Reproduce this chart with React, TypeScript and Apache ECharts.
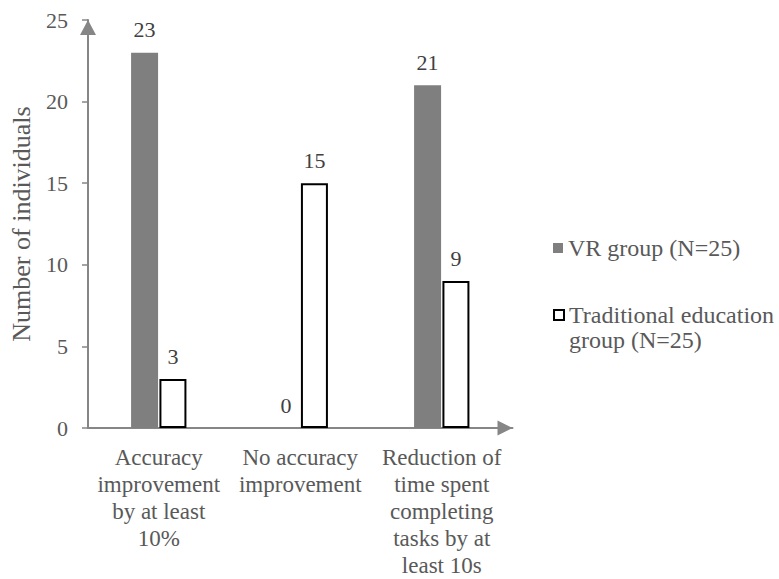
import React, { useEffect, useRef } from "react";
import * as echarts from "echarts";

const categories = [
  "Accuracy\nimprovement\nby at least\n10%",
  "No accuracy\nimprovement",
  "Reduction of\ntime spent\ncompleting\ntasks by at\nleast 10s",
];
const vrGroup = [23, 0, 21];
const traditionalGroup = [3, 15, 9];
const seriesNames = ["VR group (N=25)", "Traditional education\ngroup (N=25)"];
const yTicks = { min: 0, max: 25, interval: 5 };

const FONT = "Liberation Serif";
const AXIS_GRAY = "#868686";
const TEXT_GRAY = "#595959";

export default function App() {
  const ref = useRef<HTMLDivElement>(null);

  useEffect(() => {
    if (!ref.current) return;
    const chart = echarts.init(ref.current, undefined, { renderer: "svg" });
    const labelStyle = {
      show: true,
      position: "top" as const,
      distance: 12,
      color: "#404040",
      fontSize: 22,
      fontFamily: FONT,
    };
    const legendBase = {
      orient: "vertical" as const,
      left: 553,
      padding: 0,
      itemWidth: 10,
      itemHeight: 10,
      icon: "rect",
      selectedMode: false,
      textStyle: {
        fontFamily: FONT,
        fontSize: 24,
        lineHeight: 25,
        color: TEXT_GRAY,
      },
    };
    chart.setOption({
      animation: false,
      backgroundColor: "#ffffff",
      textStyle: { fontFamily: FONT },
      grid: { left: 88, right: 266.5, top: 20, bottom: 151, containLabel: false },
      legend: [
        { ...legendBase, top: 235.5, data: [seriesNames[0]] },
        {
          ...legendBase,
          top: 277.5,
          data: [seriesNames[1]],
          // a blank leading line keeps the icon level with the first line of the name
          formatter: (name: string) => " \n" + name,
        },
      ],
      xAxis: {
        type: "category",
        data: categories,
        axisLine: {
          show: true,
          lineStyle: { color: AXIS_GRAY, width: 2 },
          symbol: ["none", "triangle"],
          symbolSize: [15, 15],
          symbolOffset: [0, -7.5],
        },
        axisTick: { show: false },
        axisLabel: {
          interval: 0,
          margin: 16,
          fontSize: 23,
          lineHeight: 27,
          color: TEXT_GRAY,
          fontFamily: FONT,
          align: "center",
        },
      },
      yAxis: {
        type: "value",
        min: yTicks.min,
        max: yTicks.max,
        interval: yTicks.interval,
        name: "Number of individuals",
        nameLocation: "middle",
        nameGap: 54,
        nameTextStyle: { fontSize: 26, color: TEXT_GRAY, fontFamily: FONT },
        axisLine: {
          show: true,
          lineStyle: { color: AXIS_GRAY, width: 2 },
          symbol: ["none", "triangle"],
          symbolSize: [16, 15],
          symbolOffset: [0, -7.5],
        },
        axisTick: { show: true, length: 6, lineStyle: { color: AXIS_GRAY, width: 1.5 } },
        splitLine: { show: false },
        axisLabel: {
          margin: 20,
          fontSize: 22,
          color: TEXT_GRAY,
          fontFamily: FONT,
        },
      },
      series: [
        {
          name: seriesNames[0],
          type: "bar",
          data: vrGroup,
          barWidth: 27,
          barGap: "5%",
          itemStyle: { color: "#7f7f7f" },
          label: labelStyle,
        },
        {
          name: seriesNames[1],
          type: "bar",
          data: traditionalGroup,
          barWidth: 27,
          barGap: "5%",
          itemStyle: { color: "#ffffff", borderColor: "#000000", borderWidth: 2 },
          label: labelStyle,
        },
      ],
    });
    return () => chart.dispose();
  }, []);

  return <div ref={ref} style={{ width: 779, height: 579, position: "absolute", left: 0, top: 0 }} />;
}
